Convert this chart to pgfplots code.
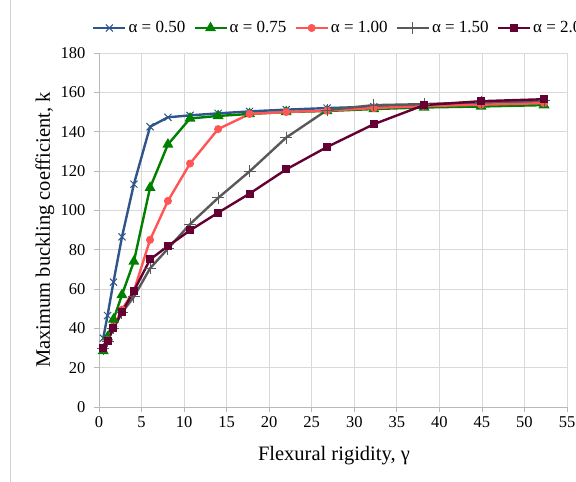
\documentclass[border=0pt]{standalone}
\usepackage{fontspec}
\setmainfont{Liberation Serif}
\usepackage{pgfplots}
\pgfplotsset{compat=1.18}
\definecolor{cblue}{RGB}{47,85,140}
\definecolor{cgreen}{RGB}{0,128,0}
\definecolor{cred}{RGB}{255,85,85}
\definecolor{cgray}{RGB}{89,89,89}
\definecolor{cpurple}{RGB}{100,0,50}
\begin{document}
\begin{tikzpicture}[x=1pt,y=1pt]
\begin{axis}[
  at={(0pt,0pt)}, anchor=origin,
  scale only axis, width=468pt, height=354pt,
  xmin=0, xmax=55, ymin=0, ymax=180,
  xtick={0,5,...,55}, ytick={0,20,...,180},
  grid=major, major grid style={draw=gray!30, line width=0.8pt},
  axis lines=left, axis line style={-, draw=gray!55, line width=0.8pt},
  tick align=outside, major tick length=5pt,
  tick style={draw=gray!55, line width=0.8pt},
  /pgf/number format/assume math mode=true,
  tick label style={font=\fontsize{16.5}{19}\selectfont},
  xticklabel style={yshift=-1pt},
  yticklabel style={xshift=-5pt},
  label style={font=\fontsize{20.5}{24}\selectfont},
  xlabel={Flexural rigidity, γ},
  ylabel={Maximum buckling coefficient, k},
  xlabel style={at={(axis description cs:0.502,-0.137)}, anchor=center},
  ylabel style={at={(axis description cs:-0.1154,0.5)}, anchor=center},
  legend columns=5,
  legend style={draw=none, fill=none, at={(axis description cs:-0.0150,1.0706)}, anchor=west,
    font=\fontsize{17}{20}\selectfont, inner sep=0pt,
    /tikz/every even column/.append style={column sep=6pt}},
  legend cell align=left,
  legend image code/.code={\draw[mark repeat=2,mark phase=2] plot coordinates {(0pt,0pt) (16pt,0pt) (32pt,0pt)};},
  every axis plot/.append style={line width=2.4pt},
]
\addplot[color=cblue, mark=x, mark size=5pt, mark options={line width=1pt}] coordinates {
(0.5,35) (1.0,46.5) (1.7,63.5) (2.7,86.5) (4.1,113.3) (6.0,142.5) (8.1,147.3) (10.7,148.3) (14.0,149.3) (17.7,150.3) (22.0,151.2) (26.8,152) (32.3,152.7) (38.2,153.5) (44.9,154.3) (52.3,155)};
\addlegendentry{α = 0.50}
\addplot[color=cgreen, mark=triangle*, mark size=4pt] coordinates {
(0.5,28.5) (1.0,35.5) (1.7,44.5) (2.7,57) (4.1,74) (6.0,111.5) (8.1,133.5) (10.7,146.7) (14.0,148) (17.7,149) (22.0,150) (26.8,150.5) (32.3,151.5) (38.2,152.3) (44.9,152.8) (52.3,153.5)};
\addlegendentry{α = 0.75}
\addplot[color=cred, mark=*, mark size=3.5pt, mark options={line width=1pt}] coordinates {
(0.5,30) (1.0,34) (1.7,41) (2.7,49.5) (4.1,59) (6.0,85) (8.1,104.8) (10.7,123.8) (14.0,141.3) (17.7,149) (22.0,150) (26.8,150.7) (32.3,152) (38.2,153) (44.9,153.7) (52.3,154.5)};
\addlegendentry{α = 1.00}
\addplot[color=cgray, mark=+, mark size=6pt, mark options={line width=1pt}] coordinates {
(0.5,29.5) (1.0,33.5) (1.7,40) (2.7,48) (4.1,56) (6.0,70.5) (8.1,80.5) (10.7,93) (14.0,106.3) (17.7,119.8) (22.0,137) (26.8,151) (32.3,153.5) (38.2,154) (44.9,155) (52.3,155.8)};
\addlegendentry{α = 1.50}
\addplot[color=cpurple, mark=square*, mark size=3.5pt, mark options={line width=1pt}] coordinates {
(0.5,30) (1.0,33.5) (1.7,40) (2.7,48.3) (4.1,59) (6.0,75) (8.1,81.8) (10.7,89.8) (14.0,98.8) (17.7,108.5) (22.0,120.8) (26.8,132.2) (32.3,143.8) (38.2,153.5) (44.9,155.5) (52.3,156.5)};
\addlegendentry{α = 2.00}
\end{axis}
\draw[gray!35, line width=0.8pt] (-89pt,-75pt) -- (-89pt,407pt);
\pgfresetboundingbox
\path[use as bounding box] (-99pt,-75pt) rectangle (477pt,407pt);
\end{tikzpicture}
\end{document}
